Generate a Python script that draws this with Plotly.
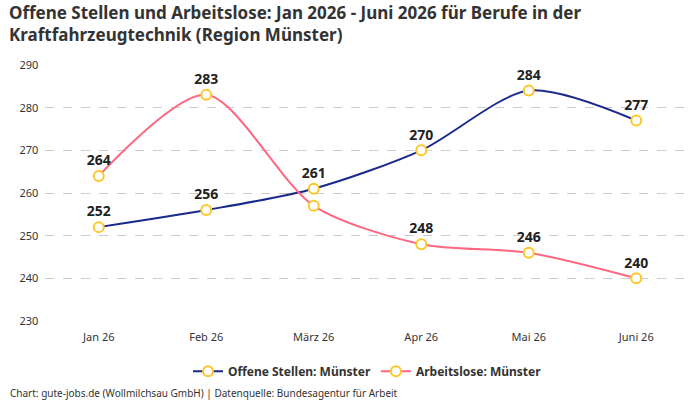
import plotly.graph_objects as go

months = ["Jan 26", "Feb 26", "März 26", "Apr 26", "Mai 26", "Juni 26"]
offene = [252, 256, 261, 270, 284, 277]
arbeitslose = [264, 283, 257, 248, 246, 240]
offene_labels = ["252", "256", "261", "270", "284", "277"]
arbeitslose_labels = ["264", "283", "", "248", "246", "240"]
title_text = ("Offene Stellen und Arbeitslose: Jan 2026 - Juni 2026 für Berufe in der<br>"
              "Kraftfahrzeugtechnik (Region Münster)")

FONT = "Noto Sans, sans-serif"
marker = dict(size=10, color="white", line=dict(color="#FFC629", width=2))
labelfont = dict(family=FONT, size=14, color="#222", weight="bold")

fig = go.Figure()
fig.add_trace(go.Scatter(
    x=months, y=offene, name="<b>Offene Stellen: Münster</b>",
    mode="lines+markers+text", text=offene_labels, textposition="top center",
    textfont=labelfont,
    line=dict(color="#1A2A8C", width=2, shape="spline", smoothing=0.8),
    marker=marker, cliponaxis=False,
))
fig.add_trace(go.Scatter(
    x=months, y=arbeitslose, name="<b>Arbeitslose: Münster</b>",
    mode="lines+markers+text", text=arbeitslose_labels, textposition="top center",
    textfont=labelfont,
    line=dict(color="#FF6680", width=2, shape="spline", smoothing=0.8),
    marker=marker, cliponaxis=False,
))

fig.update_layout(
    width=700, height=400,
    margin=dict(l=45, r=10, t=65, b=79),
    paper_bgcolor="white", plot_bgcolor="white",
    font=dict(family=FONT, color="#333"),
    xaxis=dict(
        range=[-0.5, 5.5], showgrid=False, showline=False, zeroline=False,
        tickfont=dict(size=11, color="#333"), ticks="", ticklabelstandoff=8,
    ),
    yaxis=dict(
        range=[230, 290], dtick=10, showgrid=True, gridcolor="#CCCCCC",
        griddash="dash", gridwidth=1, zeroline=False, showline=False,
        tickfont=dict(size=11, color="#333"), ticksuffix="  ",
    ),
    legend=dict(
        orientation="h", x=0.5, xanchor="center", y=-0.14, yanchor="top",
        font=dict(family=FONT, size=12, color="#333"),
        itemwidth=30,
    ),
    annotations=[
        dict(
            text=f"<b>{title_text}</b>", xref="paper", yref="paper", x=-0.057, y=1.252,
            xanchor="left", yanchor="top", align="left", showarrow=False, borderpad=0,
            font=dict(family=FONT, size=17, color="#333"),
        ),
        dict(
            text="Chart: gute-jobs.de (Wollmilchsau GmbH) | Datenquelle: Bundesagentur für Arbeit",
            xref="paper", yref="paper", x=-0.057, y=-0.282, xanchor="left", yanchor="middle",
            showarrow=False, font=dict(family=FONT, size=10, color="#333"),
        ),
    ],
)

fig.write_html("out.html")
